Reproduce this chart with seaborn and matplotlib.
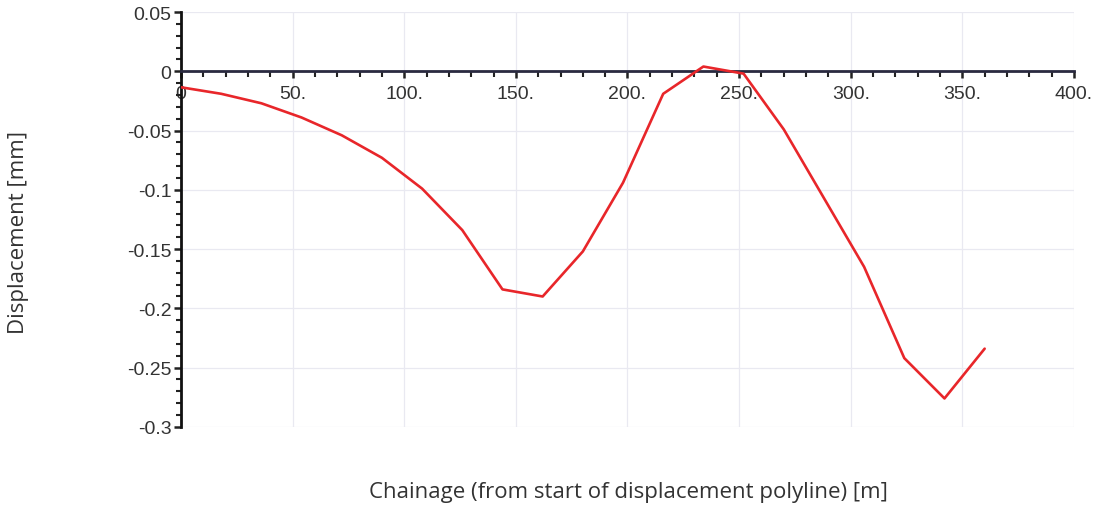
import matplotlib
matplotlib.use("Agg")
import matplotlib.pyplot as plt
from matplotlib.ticker import FuncFormatter, MultipleLocator, AutoMinorLocator
import seaborn as sns
import pandas as pd

# Data
chainage = [0, 18, 36, 54, 72, 90, 108, 126, 144, 162, 180, 198, 216, 234, 252,
            270, 288, 306, 324, 342, 360]
displacement = [-0.0135, -0.019, -0.027, -0.039, -0.054, -0.073, -0.099, -0.134,
                -0.184, -0.190, -0.152, -0.094, -0.019, 0.004, -0.002,
                -0.049, -0.107, -0.165, -0.242, -0.276, -0.234]

x_label = "Chainage (from start of displacement polyline) [m]"
y_label = "Displacement [mm]"

sns.set_style("white")
plt.rcParams["font.family"] = ["Liberation Sans", "DejaVu Sans"]

df = pd.DataFrame({"x": chainage, "y": displacement})

fig = plt.figure(figsize=(10.97, 5.10), dpi=100)
ax = fig.add_axes([0.165, 0.161, 0.814, 0.8135])

sns.lineplot(data=df, x="x", y="y", ax=ax, color="#e8262a", linewidth=1.9,
             zorder=3, sort=False)

ax.set_xlim(0, 400)
ax.set_ylim(-0.3, 0.05)

ax.xaxis.set_major_locator(MultipleLocator(50))
ax.xaxis.set_minor_locator(AutoMinorLocator(5))
ax.yaxis.set_major_locator(MultipleLocator(0.05))
ax.yaxis.set_minor_locator(AutoMinorLocator(5))

ax.xaxis.set_major_formatter(FuncFormatter(lambda v, p: "0" if abs(v) < 1e-9 else f"{round(v):d}."))
ax.yaxis.set_major_formatter(FuncFormatter(lambda v, p: "0" if abs(v) < 1e-9 else f"{round(v, 3):g}"))

ax.grid(True, which="major", color="#e9e9f1", linewidth=0.9, zorder=0)

for s in ["top", "right"]:
    ax.spines[s].set_visible(False)
ax.spines["bottom"].set_position(("data", 0))
ax.spines["bottom"].set_color("#2a2a40")
ax.spines["bottom"].set_linewidth(2.0)
ax.spines["left"].set_color("#111111")
ax.spines["left"].set_linewidth(2.0)

ax.tick_params(axis="both", which="both", bottom=True, left=True, top=False, right=False)
ax.tick_params(axis="x", which="major", direction="out", length=5, width=1.8,
               color="#222222", labelsize=14, pad=5, labelcolor="#333333")
ax.tick_params(axis="x", which="minor", direction="out", length=4, width=1.5, color="#222222")
ax.tick_params(axis="y", which="major", direction="out", length=5, width=1.8,
               color="#222222", labelsize=14, pad=2, labelcolor="#333333")
ax.tick_params(axis="y", which="minor", direction="out", length=3.5, width=1.5, color="#222222")

ax.set_xlabel("")
ax.set_ylabel("")
fig.text(0.573, 0.035, x_label, ha="center", va="center", fontsize=16,
         color="#333333", family=["Open Sans", "DejaVu Sans"])
fig.text(0.017, 0.545, y_label, ha="center", va="center", rotation=90, fontsize=16,
         color="#333333", family=["Open Sans", "DejaVu Sans"])

fig.savefig("out.png", dpi=100)
